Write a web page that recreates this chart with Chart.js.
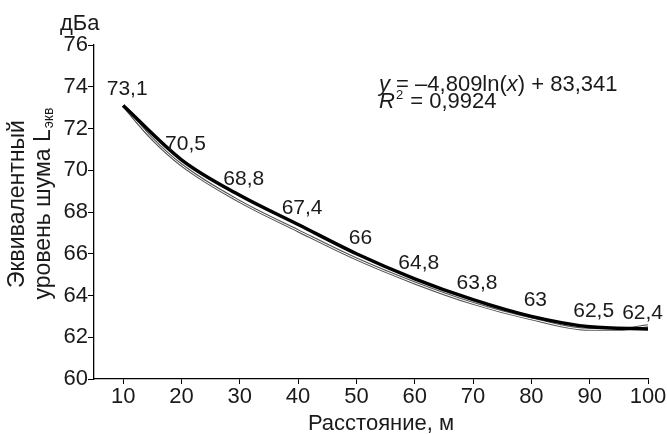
<!DOCTYPE html>
<html>
<head>
<meta charset="utf-8">
<script src="https://cdn.jsdelivr.net/npm/chart.js@4.4.0/dist/chart.umd.min.js"></script>
<style>
  html, body { margin: 0; background: #fff; }
  #wrap { width: 667px; height: 434px; position: relative; }
</style>
</head>
<body>
<div id="wrap"><canvas id="noiseChart"></canvas></div>
<script>
// distance from road, m
const distances = [10, 20, 30, 40, 50, 60, 70, 80, 90, 100];
// equivalent noise level, dBA
const noiseLevels = [73.1, 70.5, 68.8, 67.4, 66, 64.8, 63.8, 63, 62.5, 62.4];
// thin trend line as drawn
const trendX = [10, 15, 20, 30, 40, 50, 60, 70, 80, 90, 95, 100];
const trendLevels = [73.1, 71.5, 70.25, 68.5, 67.1, 65.75, 64.6, 63.62, 62.88, 62.38, 62.38, 62.55];
const xTicks = [10, 20, 30, 40, 50, 60, 70, 80, 90, 100];
const yTicks = [60, 62, 64, 66, 68, 70, 72, 74, 76];

const FONT = "'Liberation Sans', Arial, sans-serif";
const TXT = "#1a1a1a";

// === data labels over the thick line ===
const valueLabels = {
  id: "valueLabels",
  afterDatasetsDraw(chart) {
    const ctx = chart.ctx;
    const pts = chart.getDatasetMeta(0).data;
    ctx.save();
    ctx.font = "21px " + FONT;
    ctx.fillStyle = TXT;
    ctx.textBaseline = "middle";
    ctx.textAlign = "center";
    pts.forEach((p, i) => {
      const txt = String(noiseLevels[i]).replace(".", ",");
      const w = ctx.measureText(txt).width;
      const x = Math.min(p.x + 4, chart.width - 4 - w / 2);
      ctx.fillText(txt, x, p.y - 16);
    });
    ctx.restore();
  }
};

// === axis unit, axis titles, equation ===
const extraText = {
  id: "extraText",
  afterDraw(chart) {
    const ctx = chart.ctx;
    ctx.save();
    ctx.fillStyle = TXT;
    ctx.font = "22px " + FONT;
    ctx.textBaseline = "alphabetic";
    ctx.textAlign = "left";
    ctx.fillText("дБа", 60, 30);

    // x title
    ctx.textAlign = "center";
    ctx.fillText("Расстояние, м", 381, 430);

    // rotated y title
    ctx.save();
    ctx.translate(0, 204);
    ctx.rotate(-Math.PI / 2);
    ctx.font = "23px " + FONT;
    ctx.fillText("Эквивалентный", 0, 24);
    const main = "уровень шума L", sub = "экв";
    const wMain = ctx.measureText(main).width;
    ctx.font = "14px " + FONT;
    const wSub = ctx.measureText(sub).width;
    const start = -(wMain + wSub) / 2;
    ctx.textAlign = "left";
    ctx.font = "23px " + FONT;
    ctx.fillText(main, start, 50);
    ctx.font = "14px " + FONT;
    ctx.fillText(sub, start + wMain + 1, 53);
    ctx.restore();

    // regression equation
    ctx.textAlign = "left";
    let x = 379;
    const put = (s, font, dy) => {
      ctx.font = font;
      ctx.fillText(s, x, 91 + (dy || 0));
      x += ctx.measureText(s).width;
    };
    const reg = "22px " + FONT, it = "italic 22px " + FONT;
    put("y", it); put(" = \u20134,809ln(", reg); put("x", it); put(") + 83,341", reg);
    x = 379;
    put("R", it, 17);
    ctx.font = "13px " + FONT; ctx.fillText("2", x + 1, 99); x += ctx.measureText("2").width + 2;
    put(" = 0,9924", reg, 17);
    ctx.restore();
  }
};

const ctx = document.getElementById("noiseChart").getContext("2d");
new Chart(ctx, {
  type: "line",
  data: {
    datasets: [
      {
        data: distances.map((d, i) => ({ x: d, y: noiseLevels[i] })),
        borderColor: "#000",
        borderWidth: 3.5,
        pointRadius: 0,
        cubicInterpolationMode: "monotone"
      },
      {
        data: trendX.map((d, i) => ({ x: d, y: trendLevels[i] })),
        borderColor: "#fff",
        borderWidth: 1,
        pointRadius: 0,
        cubicInterpolationMode: "monotone"
      },
      {
        data: trendX.map((d, i) => ({ x: d, y: trendLevels[i] })),
        borderColor: "#555",
        borderWidth: 3,
        pointRadius: 0,
        cubicInterpolationMode: "monotone"
      }
    ]
  },
  options: {
    responsive: true,
    maintainAspectRatio: false,
    animation: false,
    layout: { padding: { left: 0, top: 45, right: 19, bottom: 0 } },
    plugins: { legend: { display: false }, tooltip: { enabled: false } },
    scales: {
      x: {
        type: "linear",
        min: 5,
        max: 100,
        afterBuildTicks: s => { s.ticks = xTicks.map(v => ({ value: v })); },
        afterFit: s => { s.height = 55; },
        grid: { display: true, drawOnChartArea: false, tickLength: 5, color: "#000" },
        border: { display: true, color: "#000", width: 1.3 },
        ticks: { color: TXT, font: { family: FONT, size: 22 }, padding: 0, maxRotation: 0 }
      },
      y: {
        min: 60,
        max: 76,
        afterBuildTicks: s => { s.ticks = yTicks.map(v => ({ value: v })); },
        afterFit: s => { s.width = 94; },
        grid: { display: true, drawOnChartArea: false, tickLength: 6, color: "#000" },
        border: { display: true, color: "#000", width: 1.3 },
        ticks: { color: TXT, font: { family: FONT, size: 22 }, padding: 0 }
      }
    }
  },
  plugins: [valueLabels, extraText]
});
</script>
</body>
</html>
